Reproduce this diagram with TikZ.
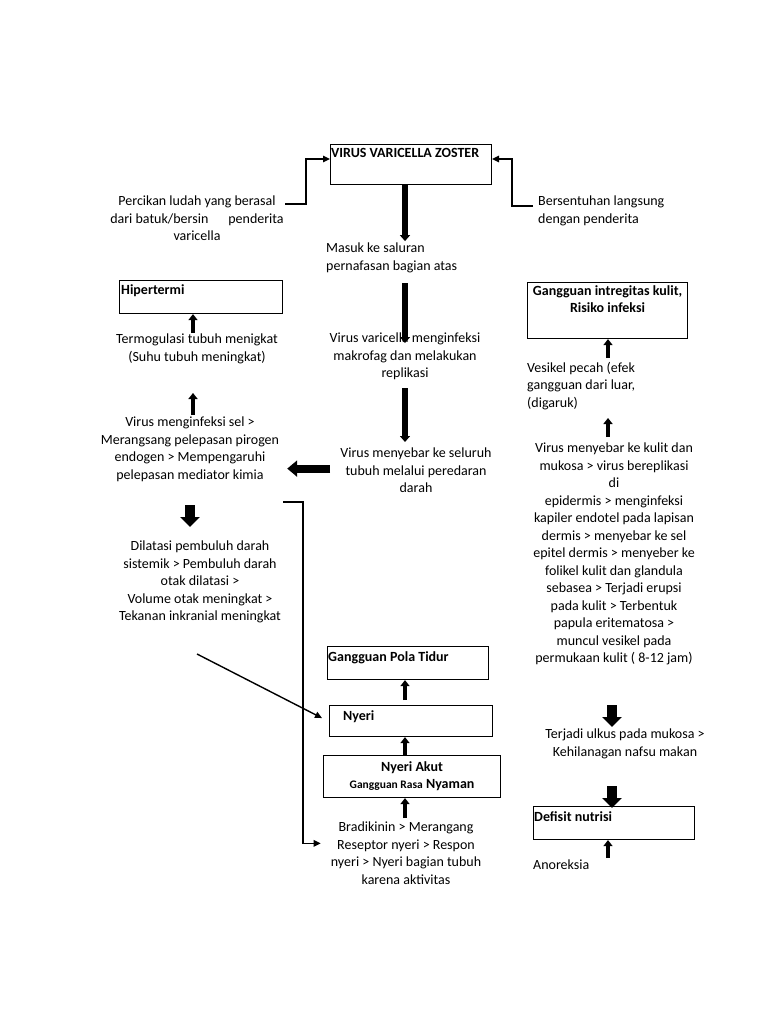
\documentclass[tikz,border=0pt]{standalone}
\usepackage{fontspec}
\setmainfont{Carlito}
\usetikzlibrary{arrows.meta}

\begin{document}
\begin{tikzpicture}[
        x=1pt, y=-1pt,
        every node/.style={font=\fontsize{14}{17.5}\selectfont, inner sep=0pt},
        txt/.style={align=center, anchor=north},
        ltxt/.style={align=left, anchor=north west},
        box/.style={draw, line width=1.1pt, anchor=north west},
        boxlbl/.style={font=\fontsize{14}{17.5}\selectfont\bfseries, anchor=north west, inner sep=1pt},
        link/.style={line width=1.4pt, -{Triangle[length=7pt,width=6.5pt]}},
        fatarrow/.style={line width=6pt, -{Triangle[length=6pt,width=10pt]}},
        smallarrow/.style={line width=4pt, -{Triangle[length=6pt,width=9pt]}},
        widearrow/.style={line width=10pt, -{Triangle[length=10pt,width=19pt]}},
        sidearrow/.style={line width=8pt, -{Triangle[length=10pt,width=16pt]}}
      ]
      \fill[white] (0,0) rectangle (768,1024);
      \useasboundingbox (0,0) rectangle (768,1024);

      % top
      \node[box, minimum width=161pt, minimum height=40pt] (vzv) at (330,144) {};
      \node[boxlbl] (vzvlbl) at ([yshift=-3pt]vzv.north west) {VIRUS VARICELLA ZOSTER};
      \node[txt] (percikan) at (197,196) {Percikan ludah yang berasal\\dari batuk/bersin\hspace{20pt}penderita\\varicella};
      \node[ltxt] (bersentuhan) at (538,196) {Bersentuhan langsung\\dengan penderita};

      % middle column
      \node[ltxt] (masuk) at (326,243) {Masuk ke saluran\\pernafasan bagian atas};
      \node[txt] (replikasi) at (405,333) {Virus varicella menginfeksi\\makrofag dan melakukan\\replikasi};
      \node[txt] (seluruh) at (416,448) {Virus menyebar ke seluruh\\tubuh melalui peredaran\\darah};

      % left column
      \node[box, minimum width=163pt, minimum height=33pt] (hipertermi) at (119,280) {};
      \node[boxlbl] (hiperlbl) at ([xshift=1pt,yshift=-3pt]hipertermi.north west) {Hipertermi};
      \node[txt] (termo) at (197,334) {Termogulasi tubuh menigkat\\(Suhu tubuh meningkat)};
      \node[txt] (pirogen) at (190,417) {Virus menginfeksi sel >\\Merangsang pelepasan pirogen\\endogen > Mempengaruhi\\pelepasan mediator kimia};
      \node[txt] (dilatasi) at (200,541) {Dilatasi pembuluh darah\\sistemik > Pembuluh darah\\otak dilatasi >\\Volume otak meningkat >\\Tekanan inkranial meningkat};

      % bottom middle
      \node[box, minimum width=161pt, minimum height=33pt] (pola) at (327,646) {};
      \node[boxlbl] (polalbl) at ([yshift=-4pt]pola.north west) {Gangguan Pola Tidur};
      \node[box, minimum width=163pt, minimum height=31pt] (nyeri) at (329,705) {};
      \node[boxlbl] (nyerilbl) at ([xshift=13pt,yshift=-4pt]nyeri.north west) {Nyeri};
      \node[box, minimum width=177pt, minimum height=42pt, align=center,
        font=\fontsize{14}{17}\selectfont\bfseries] (akut) at (323,755)
        {Nyeri Akut\\{\fontsize{11.5}{12}\selectfont Gangguan Rasa} Nyaman};
      \node[txt] (bradi) at (406,822) {Bradikinin > Merangang\\Reseptor nyeri > Respon\\nyeri > Nyeri bagian tubuh\\karena aktivitas};

      % right column
      \node[box, minimum width=160pt, minimum height=56pt] (intregitas) at (527,282) {};
      \node[boxlbl, anchor=north, align=center] (intreglbl) at ([yshift=-2pt]intregitas.north) {Gangguan intregitas kulit,\\Risiko infeksi};
      \node[ltxt] (vesikel) at (527,362) {Vesikel pecah (efek\\gangguan dari luar,\\(digaruk)};
      \node[txt] (kulit) at (614,443) {Virus menyebar ke kulit dan\\mukosa > virus bereplikasi\\di\\epidermis > menginfeksi\\kapiler endotel pada lapisan\\dermis > menyebar ke sel\\epitel dermis > menyeber ke\\folikel kulit dan glandula\\sebasea > Terjadi erupsi\\pada kulit > Terbentuk\\papula eritematosa >\\muncul vesikel pada\\permukaan kulit ( 8-12 jam)};
      \node[txt] (ulkus) at (625,729) {Terjadi ulkus pada mukosa >\\Kehilanagan nafsu makan};
      \node[box, minimum width=161pt, minimum height=33pt] (defisit) at (533,806) {};
      \node[boxlbl] (defisitlbl) at ([yshift=-4pt]defisit.north west) {Defisit nutrisi};
      \node[ltxt] (anoreksia) at (533,860) {Anoreksia};

      \coordinate (mid) at (405,0);
      \coordinate (rc) at (608,0);
      \coordinate (rc2) at (612,0);
      \coordinate (percikanend) at (285,204);
      \coordinate (bersentuhanend) at (533,206);
      \coordinate (brk) at (283,502);
      \coordinate (diag) at (197,654);

      % connectors
      \draw[link] (percikanend) -| ([xshift=-24pt,yshift=-15pt]vzv.north west) -- ([yshift=-15pt]vzv.north west);
      \draw[link] (bersentuhanend) -| ([xshift=20pt,yshift=-15pt]vzv.north east) -- ([yshift=-15pt]vzv.north east);
      \draw[fatarrow] (mid |- vzv.south) -- ++(0,56);
      \draw[fatarrow] ([yshift=-40pt]mid |- masuk.north) -- ++(0,60);
      \draw[fatarrow] ([yshift=-55pt]mid |- replikasi.north) -- ++(0,54);
      \draw[sidearrow] ([xshift=-10pt,yshift=2pt]seluruh.west) -- ++(-43,0);

      \draw[smallarrow] ([xshift=-4pt,yshift=1pt]termo.north) -- ([xshift=-4pt]termo.north |- hipertermi.south);
      \draw[smallarrow] ([xshift=3pt,yshift=2pt]pirogen.north) -- ++(0,-22);
      \draw[widearrow] ([xshift=-10pt,yshift=36pt]dilatasi.north) -- ++(0,22);

      \draw[link] (brk) -- ++(20,0) |- ([xshift=-10pt,yshift=10pt]bradi.west);
      \draw[link] (diag) -- ([xshift=-7pt,yshift=3pt]nyeri.west);
      \draw[smallarrow] ([yshift=5pt]mid |- nyeri.north) -- (mid |- pola.south);
      \draw[smallarrow] (mid |- akut.north) -- (mid |- nyeri.south);
      \draw[smallarrow] ([yshift=4pt]mid |- bradi.north) -- (mid |- akut.south);

      \draw[smallarrow] ([yshift=4pt]rc |- vesikel.north) -- (rc |- intregitas.south);
      \draw[smallarrow] ([yshift=6pt]rc |- kulit.north) -- ++(0,-19);
      \draw[widearrow] ([yshift=24pt]rc2 |- ulkus.north) -- ++(0,22);
      \draw[widearrow] ([yshift=20pt]rc2 |- defisit.north) -- ([yshift=-2pt]rc2 |- defisit.north);
      \draw[smallarrow] ([yshift=2pt]rc |- anoreksia.north) -- (rc |- defisit.south);
\end{tikzpicture}
\end{document}
